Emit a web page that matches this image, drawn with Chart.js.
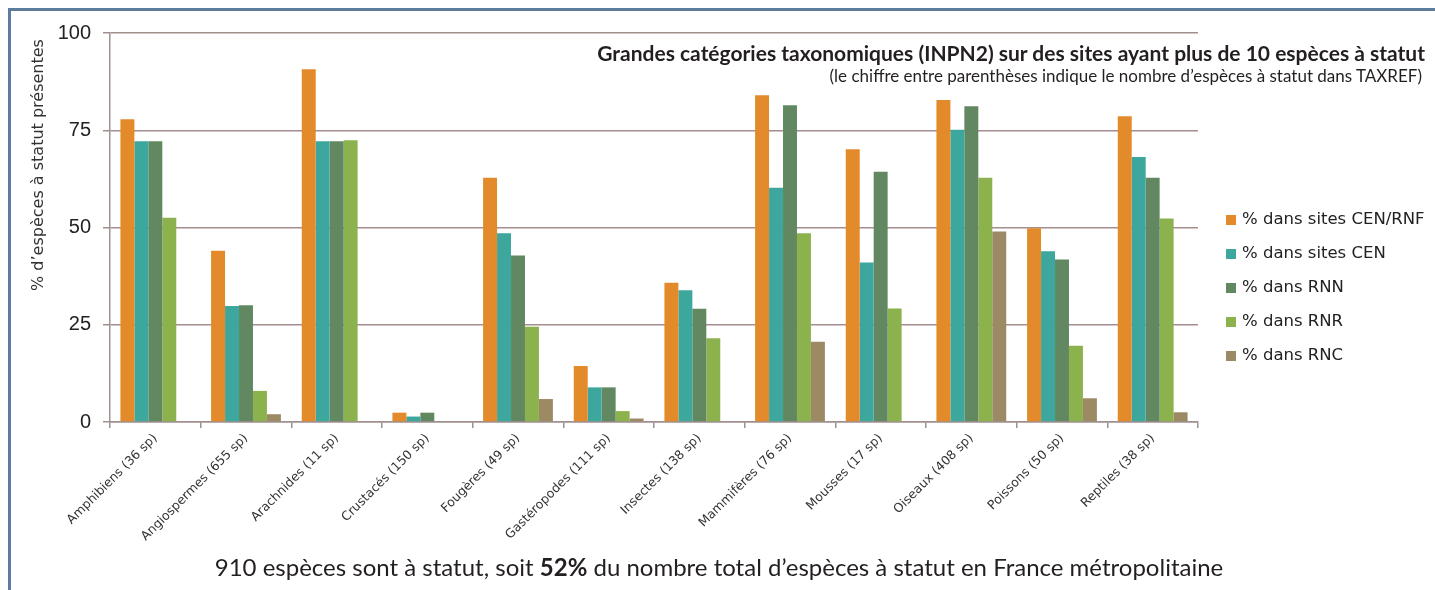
<!DOCTYPE html>
<html><head><meta charset="utf-8">
<script src="https://cdn.jsdelivr.net/npm/chart.js@4.4.1/dist/chart.umd.min.js"></script>
<style>
html,body{margin:0;padding:0;background:#fff;width:1435px;height:590px;overflow:hidden;}
#frame{position:absolute;left:8px;top:8px;width:1440px;height:600px;border-top:3px solid #5b7c9c;border-left:3px solid #5b7c9c;}
#c{position:absolute;left:0;top:0;}
.t{position:absolute;white-space:nowrap;color:#231f20;font-family:Lato,sans-serif;}
#title{right:10px;top:42px;font-size:21px;font-weight:bold;line-height:21px;}
#sub{right:13px;top:67px;font-size:17px;line-height:17px;}
#foot{left:0;width:1438px;text-align:center;top:555px;font-size:24px;line-height:24px;}
#legend{position:absolute;left:1226px;top:202px;font-family:"DejaVu Sans",sans-serif;font-size:16.5px;color:#222;}
#legend div{height:34px;line-height:34px;white-space:nowrap;}
#legend span.m{display:inline-block;width:10px;height:10px;margin-right:6px;vertical-align:-1px;}
</style></head>
<body>
<div id="frame"></div>
<canvas id="c" width="1435" height="590"></canvas>
<div class="t" id="title">Grandes catégories taxonomiques (INPN2) sur des sites ayant plus de 10 espèces à statut</div>
<div class="t" id="sub">(le chiffre entre parenthèses indique le nombre d’espèces à statut dans TAXREF)</div>
<div class="t" id="foot">910 espèces sont à statut, soit <b>52%</b> du nombre total d’espèces à statut en France métropolitaine</div>
<div id="legend"></div>
<script>
const categories = ['Amphibiens (36 sp)','Angiospermes (655 sp)','Arachnides (11 sp)','Crustacés (150 sp)','Fougères (49 sp)','Gastéropodes (111 sp)','Insectes (138 sp)','Mammifères (76 sp)','Mousses (17 sp)','Oiseaux (408 sp)','Poissons (50 sp)','Reptiles (38 sp)'];
const seriesLabels = ['% dans sites CEN/RNF','% dans sites CEN','% dans RNN','% dans RNR','% dans RNC'];
const cenRnf = [77.8, 44, 90.7, 2.4, 62.8, 14.4, 35.8, 84, 70.1, 82.8, 49.8, 78.6];
const cen    = [72.2, 29.8, 72.2, 1.4, 48.5, 8.9, 33.9, 60.2, 41, 75.1, 43.9, 68.1];
const rnn    = [72.2, 30, 72.2, 2.4, 42.8, 8.9, 29.1, 81.4, 64.3, 81.2, 41.8, 62.8];
const rnr    = [52.5, 8, 72.4, 0, 24.5, 2.8, 21.5, 48.5, 29.2, 62.8, 19.6, 52.3];
const rnc    = [0, 2, 0, 0, 5.9, 0.9, 0, 20.6, 0, 49, 6.1, 2.5];
const yTicks = [0, 25, 50, 75, 100];
const yTitle = '% d’espèces à statut présentes';
const colors = ['#E38A2B','#3DA79D','#628862','#8CB24E','#9C8A64'];
const values = [cenRnf, cen, rnn, rnr, rnc];

const datasets = seriesLabels.map((l,i)=>({label:l,data:values[i],backgroundColor:colors[i],borderWidth:0,categoryPercentage:0.77,barPercentage:1.0}));

const leg = document.getElementById('legend');
datasets.forEach(d=>{const r=document.createElement('div');r.innerHTML='<span class="m" style="background:'+d.backgroundColor+'"></span>'+d.label;leg.appendChild(r);});

const yTitlePlugin = {id:'ytitle',afterDraw(chart){const ctx=chart.ctx;ctx.save();ctx.translate(39,165);ctx.rotate(-Math.PI/2);ctx.font='16px "DejaVu Sans"';ctx.fillStyle='#333';ctx.textAlign='center';ctx.textBaseline='middle';ctx.fillText(yTitle,0,0);ctx.restore();}};

new Chart(document.getElementById('c'),{
  type:'bar',
  data:{labels:categories,datasets},
  options:{
    responsive:false,animation:false,
    layout:{padding:{left:0,top:33,right:237,bottom:0}},
    plugins:{legend:{display:false},tooltip:{enabled:false}},
    scales:{
      x:{
        afterFit(s){s.height=168;},
        grid:{offset:true,drawOnChartArea:false,drawTicks:true,tickLength:6,color:'#9a9090',lineWidth:1.5},
        border:{display:true,color:'#a09090',width:1.5},
        ticks:{autoSkip:false,minRotation:45,maxRotation:45,font:{family:'DejaVu Sans',size:12.5},color:'#333',padding:3}
      },
      y:{
        min:0,max:100,
        afterFit(s){s.width=110;},
        afterBuildTicks(s){s.ticks=yTicks.map(v=>({value:v}));},
        grid:{color:'#a48e8e',lineWidth:1.5,tickLength:7},
        border:{display:true,color:'#a09090',width:1.5},
        ticks:{font:{family:'Liberation Sans',size:20},color:'#222',padding:12}
      }
    }
  },
  plugins:[yTitlePlugin]
});
</script>
</body></html>
